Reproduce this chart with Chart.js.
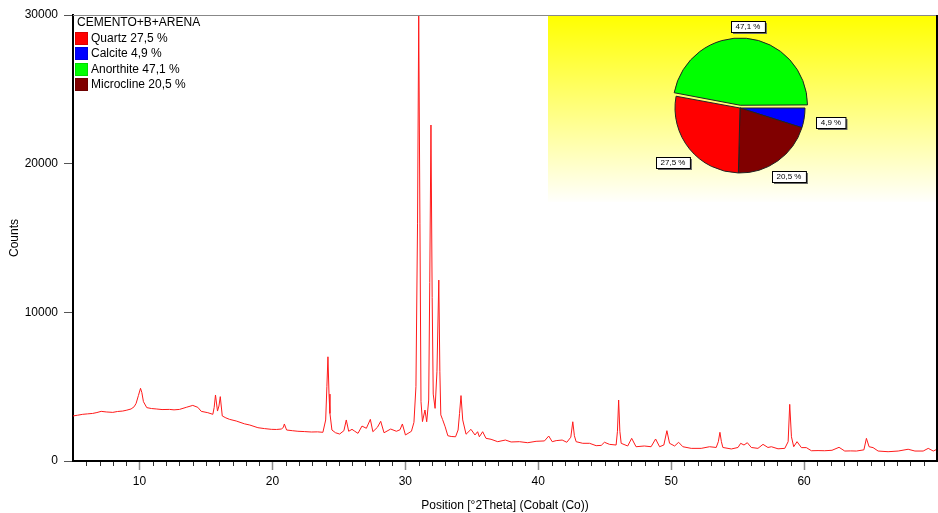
<!DOCTYPE html>
<html>
<head>
<meta charset="utf-8">
<script src="https://cdn.jsdelivr.net/npm/chart.js@4.4.0/dist/chart.umd.min.js"></script>
<style>
  html, body { margin: 0; padding: 0; background: #fff; }
  #wrap { position: relative; width: 938px; height: 513px; font-family: Arial, "Liberation Sans", sans-serif; }
  #xrd { position: absolute; left: 0; top: 0; }
  #pieBox { position: absolute; left: 548px; top: 16px; width: 388px; height: 186px;
            background: linear-gradient(#ffff00, #fffffc); }
  #pie { position: absolute; left: 620px; top: 13px; }
  #legend { position: absolute; left: 75px; top: 15px; font-size: 12px; line-height: 15.5px; color: #000; }
  #legend .t { padding-left: 2px; }
  #legend .r { display: flex; align-items: center; }
  #legend .b { width: 13px; height: 13px; margin-right: 3px; box-sizing: border-box; border: 1px solid rgba(0,0,0,0.15); }
</style>
</head>
<body>
<div id="wrap">
  <canvas id="xrd" width="938" height="513"></canvas>
  <div id="pieBox"></div>
  <canvas id="pie" width="240" height="190"></canvas>
  <div id="legend"></div>
</div>
<script>
const FONT = "Arial, 'Liberation Sans', sans-serif";

const sampleName = "CEMENTO+B+ARENA";
const phases = ["Quartz", "Calcite", "Anorthite", "Microcline"];
const phasePct = [27.5, 4.9, 47.1, 20.5];
const phaseColors = ["#ff0000", "#0000ff", "#00ff00", "#800000"];
// order the slices are drawn in, clockwise from 3 o'clock
const pieOrder = [1, 3, 0, 2];
const pieOffset = [0, 0, 0, 11];

const xTickLabels = [10, 20, 30, 40, 50, 60];

// diffractogram
const twoTheta = [
  5.0, 5.35, 5.73, 6.1, 6.48, 6.8, 7.12, 7.5, 7.99, 8.35, 8.74, 9.05, 9.37, 9.6, 9.75, 9.92,
  10.08, 10.18, 10.3, 10.55, 10.9, 11.26, 11.7, 12.26, 12.6, 13.01, 13.52, 14.01, 14.39, 14.65,
  15.14, 15.52, 15.62, 15.72, 15.87, 15.98, 16.08, 16.23, 16.5, 16.78, 17.28, 17.9, 18.3, 18.91,
  19.4, 19.92, 20.3, 20.67, 20.82, 20.9, 21.07, 21.5, 21.92, 22.4, 22.93, 23.4, 23.8,
  24.01, 24.1, 24.18, 24.26, 24.33, 24.48, 24.75, 25.06, 25.38, 25.56, 25.74, 25.99, 26.2,
  26.44, 26.74, 27.07, 27.37, 27.56, 27.9, 28.15, 28.4, 28.9, 29.33, 29.6, 29.78, 30.01, 30.46,
  30.65, 30.8, 30.92, 31.01, 31.1, 31.18, 31.29, 31.48, 31.61, 31.76, 31.84, 31.93, 32.02, 32.1,
  32.24, 32.38, 32.52, 32.6, 32.67, 32.8, 33.0, 33.2, 33.45, 33.78, 33.97, 34.08, 34.19, 34.32,
  34.57, 34.94, 35.24, 35.44, 35.57, 35.82, 36.07, 36.45, 36.95, 37.53, 37.96, 38.58, 39.21,
  39.84, 40.47, 40.79, 41.05, 41.35, 41.8, 42.15, 42.45, 42.6, 42.72, 42.85, 43.35, 43.86,
  44.36, 44.74, 44.98, 45.36, 45.86, 45.96, 46.05, 46.14, 46.24, 46.73, 47.03, 47.36, 47.98,
  48.49, 48.83, 49.13, 49.45, 49.68, 49.88, 50.26, 50.56, 50.88, 51.51, 52.26, 52.89, 53.39,
  53.55, 53.67, 53.78, 53.89, 54.53, 55.03, 55.23, 55.48, 55.73, 56.03, 56.53, 56.91, 57.28,
  57.54, 58.04, 58.55, 58.8, 58.92, 59.05, 59.22, 59.47, 59.8, 60.17, 60.55, 61.05, 61.55,
  62.1, 62.63, 63.06, 63.5, 63.94, 64.5, 64.69, 64.89, 65.19, 65.57, 66.32, 67.08, 67.83,
  68.34, 68.96, 69.34, 69.72, 70.0
];
const counts = [
  3030, 3080, 3140, 3170, 3200, 3260, 3340, 3300, 3270, 3330, 3360, 3420, 3500, 3650, 3880, 4400,
  4890, 4600, 3990, 3590, 3530, 3500, 3460, 3470, 3440, 3470, 3610, 3740, 3610, 3340,
  3250, 3140, 3600, 4440, 3360, 3700, 4330, 3030, 2900, 2800, 2690, 2500, 2420, 2240,
  2180, 2130, 2120, 2150, 2250, 2490, 2085, 2040, 2000, 1980, 1950, 1960, 1930,
  2760, 5000, 7010, 4500, 3200, 2085, 1900, 1815, 2040, 2760, 2000, 2130, 2000,
  1860, 2350, 2200, 2800, 1970, 2265, 2670, 1900, 2150, 2000, 2100, 2490, 1750, 2000,
  2600, 5000, 16000, 30000, 16000, 4000, 2650, 3430, 2640, 4100, 12000, 22600, 11000, 4500,
  3540, 6000, 12170, 6000, 3100, 2800, 2300, 1700, 1650, 1630, 2085, 3200, 4400, 2760,
  1800, 2130, 1750, 1970, 1630, 1970, 1525, 1460, 1300, 1410, 1280, 1300, 1230,
  1325, 1350, 1680, 1300, 1370, 1410, 1260, 1600, 2640, 1700, 1300, 1190, 1190,
  1030, 1050, 1260, 1120, 1075, 2000, 4100, 2000, 1190, 1010, 1525, 960, 1010,
  960, 1480, 960, 1075, 2040, 1190, 1010, 1260, 960, 850, 850, 960, 910,
  1300, 1930, 1300, 910, 810, 910, 1190, 1075, 1230, 910, 850, 1120, 910,
  960, 820, 850, 1300, 3810, 1630, 960, 1300, 900, 900, 690, 700, 690,
  720, 920, 670, 680, 670, 750, 1525, 960, 900, 670, 625, 670, 790,
  670, 670, 850, 670, 790
];

const fmtPct = (v) => v.toFixed(1).replace(".", ",") + " %";

// legend (top-left of the plot)
const legendEl = document.getElementById("legend");
legendEl.innerHTML = '<div class="t">' + sampleName + "</div>" +
  phases.map((p, i) =>
    '<div class="r"><span class="b" style="background:' + phaseColors[i] + '"></span>' +
    p + " " + fmtPct(phasePct[i]) + "</div>").join("");

// x ticks: short dark minors, longer grey majors; plus frame top/right
const xrdFrame = {
  id: "xrdFrame",
  afterDraw(chart) {
    const { ctx, chartArea } = chart;
    const xs = chart.scales.x;
    ctx.save();
    for (let v = 6; v < 70; v++) {
      const px = Math.round(xs.getPixelForValue(v)) + 0.5;
      const major = v % 10 === 0;
      ctx.strokeStyle = major ? "#8c8c8c" : "#333";
      ctx.lineWidth = major ? 1.5 : 1;
      ctx.beginPath();
      ctx.moveTo(px, chartArea.bottom + 1);
      ctx.lineTo(px, chartArea.bottom + (major ? 9 : 5));
      ctx.stroke();
    }
    ctx.strokeStyle = "#888";
    ctx.lineWidth = 1;
    ctx.beginPath();
    ctx.moveTo(chartArea.left, chartArea.top + 0.5);
    ctx.lineTo(chartArea.right, chartArea.top + 0.5);
    ctx.stroke();
    ctx.strokeStyle = "#000";
    ctx.lineWidth = 2;
    ctx.beginPath();
    ctx.moveTo(chartArea.right, chartArea.top);
    ctx.lineTo(chartArea.right, chartArea.bottom);
    ctx.stroke();
    ctx.restore();
  }
};

new Chart(document.getElementById("xrd"), {
  type: "scatter",
  data: {
    datasets: [{
      data: twoTheta.map((t, i) => ({ x: t, y: counts[i] })),
      showLine: true,
      borderColor: "#ff1a1a",
      borderWidth: 1,
      pointRadius: 0,
      tension: 0,
    }],
  },
  options: {
    responsive: false,
    animation: false,
    layout: { padding: { top: 15, right: 1 } },
    plugins: { legend: { display: false }, tooltip: { enabled: false } },
    scales: {
      x: {
        type: "linear",
        min: 5,
        max: 70,
        afterFit: (s) => { s.height = 52; s.paddingRight = 0; s.paddingLeft = 0; },
        ticks: {
          stepSize: 1,
          autoSkip: false,
          maxRotation: 0,
          padding: 4,
          color: "#000",
          font: { size: 12, family: FONT },
          callback: (v) => (xTickLabels.includes(v) ? String(v) : ""),
        },
        grid: { drawOnChartArea: false, tickLength: 9, color: "rgba(0,0,0,0)" },
        border: { color: "#000", width: 2 },
        title: {
          display: true,
          text: "Position [°2Theta] (Cobalt (Co))",
          color: "#000",
          font: { size: 12, family: FONT },
          padding: { top: 0, bottom: 0 },
        },
      },
      y: {
        min: 0,
        max: 30000,
        afterFit: (s) => { s.width = 73; },
        ticks: {
          stepSize: 10000,
          padding: 6,
          color: "#000",
          font: { size: 12, family: FONT },
          callback: (v) => String(v),
        },
        grid: { drawOnChartArea: false, tickLength: 9, color: "#555" },
        border: { color: "#000", width: 2 },
        title: {
          display: true,
          text: "Counts",
          color: "#000",
          font: { size: 12, family: FONT },
          padding: { top: 7, bottom: 0 },
        },
      },
    },
  },
  plugins: [xrdFrame],
});

// percentage boxes beside the slices
const pieLabels = {
  id: "pieLabels",
  afterDatasetsDraw(chart) {
    const ctx = chart.ctx;
    const meta = chart.getDatasetMeta(0);
    const ds = chart.data.datasets[0];
    ctx.save();
    ctx.font = "8px " + FONT;
    ctx.textAlign = "center";
    ctx.textBaseline = "middle";
    meta.data.forEach((arc, i) => {
      const p = arc.getProps(["x", "y", "startAngle", "endAngle", "outerRadius"], true);
      const mid = (p.startAngle + p.endAngle) / 2;
      const txt = fmtPct(ds.data[i]);
      const w = ctx.measureText(txt).width + 9;
      const h = 11;
      const cx = Math.cos(mid), cy = Math.sin(mid);
      const ext = Math.min(Math.abs(cx) > 1e-3 ? (w / 2) / Math.abs(cx) : 1e9,
                           Math.abs(cy) > 1e-3 ? (h / 2) / Math.abs(cy) : 1e9);
      const d = p.outerRadius + 12 + ext;
      const lx = Math.round(p.x + cx * d), ly = Math.round(p.y + cy * d);
      const bx = Math.round(lx - w / 2) + 0.5, by = Math.round(ly - h / 2) + 0.5;
      ctx.fillStyle = "#666";
      ctx.fillRect(bx + 1.5, by + 1.5, w, h);
      ctx.fillStyle = "#fff";
      ctx.fillRect(bx, by, w, h);
      ctx.strokeStyle = "#000";
      ctx.lineWidth = 1;
      ctx.strokeRect(bx, by, w, h);
      ctx.fillStyle = "#000";
      ctx.fillText(txt, lx, ly + 0.5);
    });
    ctx.restore();
  }
};

new Chart(document.getElementById("pie"), {
  type: "pie",
  data: {
    labels: pieOrder.map((i) => phases[i]),
    datasets: [{
      data: pieOrder.map((i) => phasePct[i]),
      backgroundColor: pieOrder.map((i) => phaseColors[i]),
      borderColor: "#222",
      borderWidth: 1,
      offset: pieOffset,
      hoverOffset: 0,
    }],
  },
  options: {
    responsive: false,
    animation: false,
    rotation: 90,
    radius: 65,
    layout: { padding: 0 },
    plugins: { legend: { display: false }, tooltip: { enabled: false } },
  },
  plugins: [pieLabels],
});
</script>
</body>
</html>
